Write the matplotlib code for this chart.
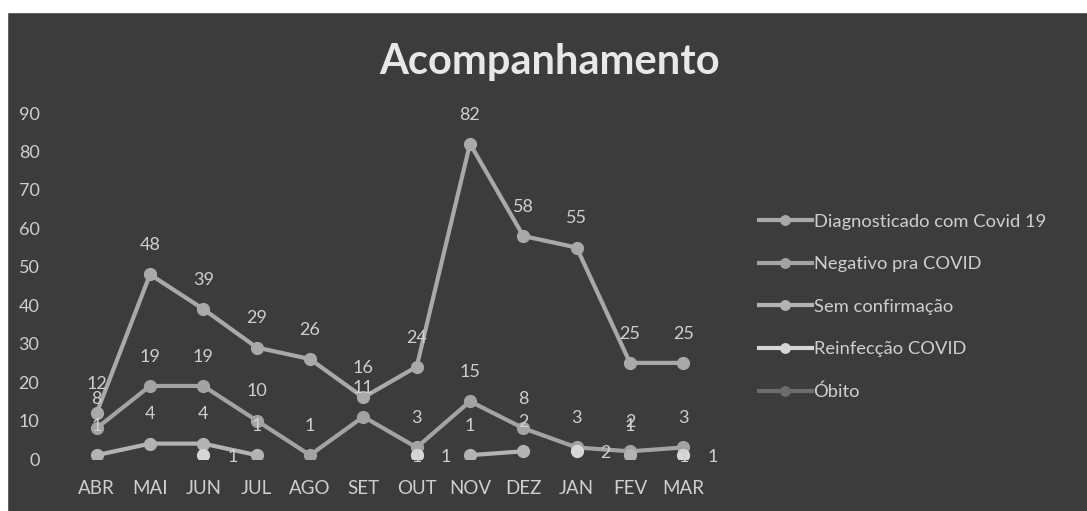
import matplotlib.pyplot as plt
import matplotlib.patches as mpatches
import numpy as np

nan = np.nan

meses = ['ABR', 'MAI', 'JUN', 'JUL', 'AGO', 'SET', 'OUT', 'NOV', 'DEZ', 'JAN', 'FEV', 'MAR']

diagnosticado = [12, 48, 39, 29, 26, 16, 24, 82, 58, 55, 25, 25]
negativo = [8, 19, 19, 10, 1, 11, 3, 15, 8, 3, 2, 3]
sem_confirmacao = [1, 4, 4, 1, nan, nan, nan, 1, 2, nan, 1, nan]
reinfeccao = [nan, nan, 1, nan, nan, nan, 1, nan, nan, 2, nan, 1]
obito = [nan, nan, nan, nan, nan, nan, 1, nan, nan, nan, nan, 1]

nomes = ['Diagnosticado com Covid 19', 'Negativo pra COVID', 'Sem confirmação',
         'Reinfecção COVID', 'Óbito']

plt.rcParams['font.family'] = ['Lato', 'DejaVu Sans']

bg = '#3c3c3c'
txt = '#cfcfcf'

fig = plt.figure(figsize=(10.87, 5.11), dpi=100, facecolor=bg)
# white photo border at top and left
fig.patches.append(mpatches.Rectangle((0, 1 - 12 / 511), 1, 12 / 511, transform=fig.transFigure,
                                      color='white', zorder=0))
fig.patches.append(mpatches.Rectangle((0, 0), 7 / 1087, 1, transform=fig.transFigure,
                                      color='white', zorder=0))

ax = fig.add_axes([70 / 1087, 1 - 459 / 511, 640 / 1087, 346 / 511])
ax.set_facecolor(bg)
x = np.arange(len(meses))

series = [diagnosticado, negativo, sem_confirmacao, reinfeccao, obito]
cores = ['#a9a9a9', '#a3a3a3', '#b3b3b3', '#d6d6d6', '#6c6c6c']
pos = ['above', 'above', 'above', 'right', 'center']
zs = [3, 3, 3, 3, 2]

for vals, cor, nome, p, z in zip(series, cores, nomes, pos, zs):
    v = np.array(vals, dtype=float)
    ax.plot(x, v, color=cor, lw=3, marker='o', ms=8.5, label=nome, zorder=z)
    for xi, yi in zip(x, v):
        if np.isnan(yi):
            continue
        if p == 'above':
            off = (0, 21)
        elif p == 'right':
            off = (21, -1)
        else:
            off = (0, -1)
        ax.annotate(f'{int(yi)}', (xi, yi), xytext=off, textcoords='offset points',
                    ha='center', va='center', color=txt, fontsize=13, zorder=5)

ax.set_xlim(-0.5, len(meses) - 0.5)
ax.set_ylim(0, 90)
ax.set_yticks(range(0, 91, 10))
ax.set_xticks(x)
ax.set_xticklabels(meses)
ax.tick_params(colors=txt, length=0)
ax.tick_params(axis='x', pad=15, labelsize=13.5)
ax.tick_params(axis='y', pad=22, labelsize=13)
for s in ax.spines.values():
    s.set_visible(False)

fig.text(550 / 1087, 1 - 62 / 511, 'Acompanhamento', ha='center', va='center',
         color='#e8e8e8', fontsize=30, fontweight='bold')

leg = fig.legend(loc='upper left', bbox_to_anchor=(742 / 1087, 1 - 197 / 511), frameon=False,
                 fontsize=13.2, labelcolor=txt, handlelength=2.9, handletextpad=0.1,
                 labelspacing=1.45, markerscale=0.8)

fig.savefig('out.png', dpi=100, facecolor=bg)
